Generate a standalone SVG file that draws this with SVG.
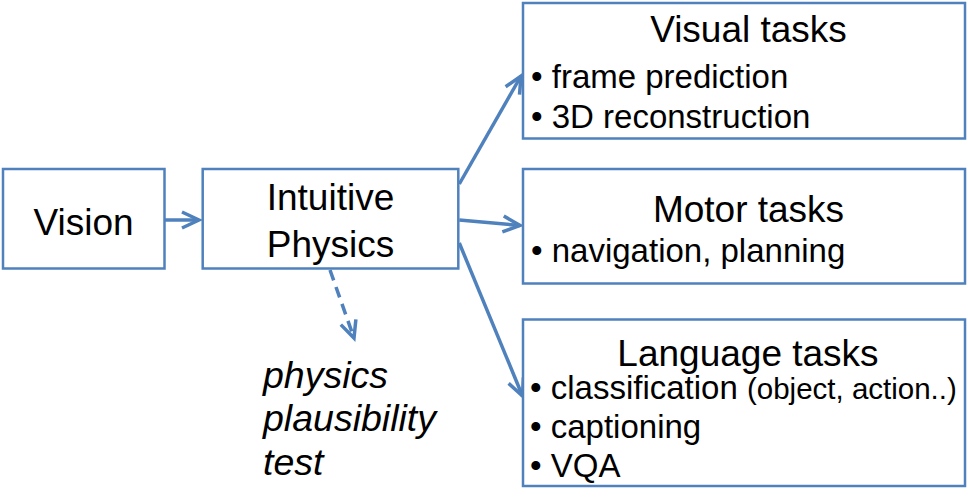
<svg xmlns="http://www.w3.org/2000/svg" width="968" height="497" viewBox="0 0 968 497">
  <style>
    .box { fill: #ffffff; stroke: #4F81BD; stroke-width: 2.5; }
    .conn { fill: none; stroke: #4F81BD; stroke-width: 3.5; }
    .dash { stroke-dasharray: 11 7; }
    .t { font-family: "Liberation Sans", Arial, sans-serif; fill: #000000; }
    .big { font-size: 37px; }
    .item { font-size: 33px; }
    .small { font-size: 29.5px; }
    .it { font-size: 37.5px; font-style: italic; }
    .mid { text-anchor: middle; }
  </style>
  <defs>
    <marker id="arr" viewBox="-22 -11 26 22" refX="0" refY="0" markerWidth="26" markerHeight="22" markerUnits="userSpaceOnUse" orient="auto">
      <path d="M-17,-8 L0,0 L-17,8" fill="none" stroke="#4F81BD" stroke-width="3.5"/>
    </marker>
  </defs>
  <rect width="968" height="497" fill="#ffffff"/>

  <g id="connectors">
    <line class="conn" x1="164.7" y1="220" x2="199" y2="220" marker-end="url(#arr)"/>
    <line class="conn" x1="459.3" y1="184" x2="521" y2="76" marker-end="url(#arr)"/>
    <line class="conn" x1="459.3" y1="220" x2="520" y2="225.5" marker-end="url(#arr)"/>
    <line class="conn" x1="459.3" y1="243" x2="522.5" y2="396" marker-end="url(#arr)"/>
    <line class="conn dash" x1="330" y1="270" x2="354" y2="338" marker-end="url(#arr)"/>
  </g>

  <g id="vision">
    <rect class="box" x="3" y="169" width="161.5" height="99.5"/>
    <text class="t big mid" x="83.5" y="235">Vision</text>
  </g>

  <g id="intuitive-physics">
    <rect class="box" x="202.7" y="169" width="255.6" height="99.5"/>
    <text class="t big mid" x="330.5" y="210">Intuitive</text>
    <text class="t big mid" x="330.5" y="256.5">Physics</text>
  </g>

  <g id="visual-tasks">
    <rect class="box" x="523" y="3" width="442" height="135.5"/>
    <text class="t big mid" x="748.5" y="42">Visual tasks</text>
    <text class="t item" x="531" y="88">• frame prediction</text>
    <text class="t item" x="531" y="128">• 3D reconstruction</text>
  </g>

  <g id="motor-tasks">
    <rect class="box" x="523" y="169" width="442" height="114.5"/>
    <text class="t big mid" x="748.5" y="222">Motor tasks</text>
    <text class="t item" x="531" y="262">• navigation, planning</text>
  </g>

  <g id="language-tasks">
    <rect class="box" x="523" y="319.5" width="442" height="166.5"/>
    <text class="t big mid" x="748" y="366">Language tasks</text>
    <text class="t item" x="530" y="399">• classification <tspan class="small">(object, action..)</tspan></text>
    <text class="t item" x="530" y="438">• captioning</text>
    <text class="t item" x="530" y="477">• VQA</text>
  </g>

  <g id="plausibility-test">
    <text class="t it" x="263" y="388">physics</text>
    <text class="t it" x="263" y="431">plausibility</text>
    <text class="t it" x="263" y="475">test</text>
  </g>
</svg>
